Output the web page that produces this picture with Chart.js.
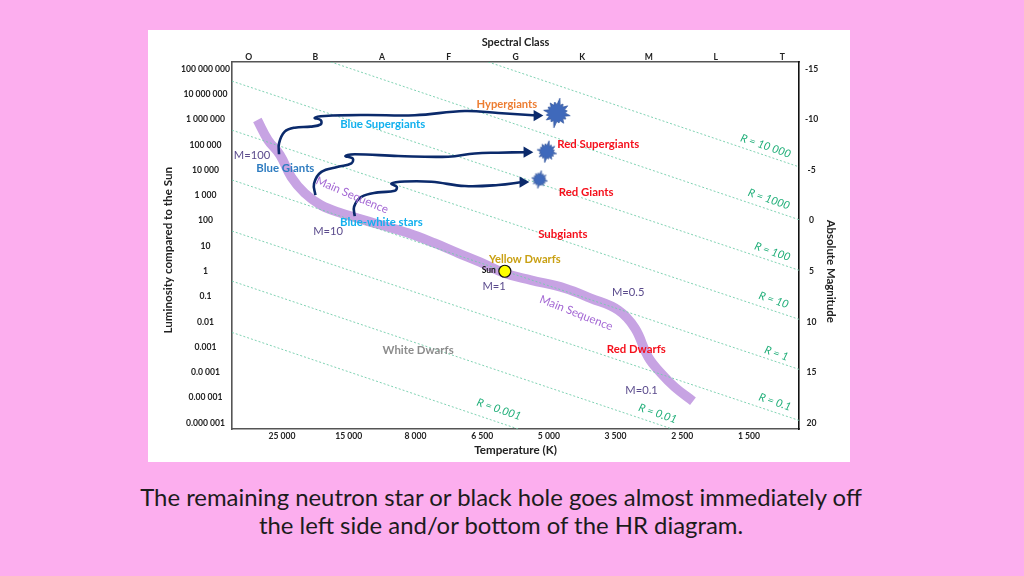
<!DOCTYPE html>
<html>
<head>
<meta charset="utf-8">
<title>HR diagram</title>
<script src="https://cdn.jsdelivr.net/npm/chart.js@4"></script>
<style>
  html, body { margin: 0; padding: 0; width: 1024px; height: 576px; overflow: hidden; background: #fcaeee; }
  #panel { position: absolute; left: 148px; top: 30px; width: 702px; height: 432px; background: #fff; }
  #caption { position: absolute; left: 51px; top: 483px; width: 900px; text-align: center;
    font: 23.9px/28px Lato, sans-serif; color: #1c1c1c; }
</style>
</head>
<body>
<div id="panel"><canvas id="chart" width="702" height="432"></canvas></div>
<div id="caption">The remaining neutron star or black hole goes almost immediately off<br>the left side and/or bottom of the HR diagram.</div>
<script>
// Axis labels
const spectralClasses = ['O', 'B', 'A', 'F', 'G', 'K', 'M', 'L', 'T'];
const temperatures = ['25 000', '15 000', '8 000', '6 500', '5 000', '3 500', '2 500', '1 500'];
const luminosities = ['100 000 000', '10 000 000', '1 000 000', '100 000', '10 000', '1 000', '100', '10', '1',
  '0.1', '0.01', '0.001', '0.0 001', '0.00 001', '0.000 001'];
const magnitudes = [-15, -10, -5, 0, 5, 10, 15, 20];

// x is the position along the class axis, y is log10 of luminosity
const mainSeqX = [0.38, 0.54, 0.72, 0.89, 1.09, 1.33, 1.63, 2.14, 2.64, 3.04, 3.39, 3.72, 4.09, 4.48, 4.99, 5.38, 5.79, 6.04, 6.24, 6.43, 6.64, 6.91];
const mainSeqY = [5.98, 5.19, 4.60, 3.72, 3.09, 2.62, 2.30, 1.90, 1.51, 1.11, 0.72, 0.36, -0.08, -0.35, -0.67, -1.07, -1.54, -2.25, -3.40, -4.03, -4.59, -5.14];

const track1X = [0.705, 0.705, 0.79, 0.94, 1.18, 1.33, 1.33, 1.24, 1.39, 1.99, 2.74, 3.49, 3.99, 4.57];
const track1Y = [4.63, 5.06, 5.52, 5.68, 5.72, 5.81, 5.98, 6.07, 6.14, 6.18, 6.17, 6.34, 6.26, 6.16];
const track2X = [1.25, 1.23, 1.34, 1.59, 1.79, 1.81, 1.70, 1.84, 2.49, 3.24, 3.64, 3.99, 4.42];
const track2Y = [3.01, 3.47, 3.93, 4.13, 4.27, 4.46, 4.56, 4.63, 4.56, 4.53, 4.66, 4.69, 4.71];
const track3X = [1.84, 1.83, 1.94, 2.19, 2.44, 2.47, 2.39, 2.59, 2.99, 3.49, 3.99, 4.36];
const track3Y = [2.18, 2.55, 2.94, 3.12, 3.18, 3.34, 3.47, 3.55, 3.54, 3.37, 3.41, 3.53];

// Constant radius lines, two ends each
const radiusX = [[3.84, 8.5], [1.48, 8.5], [0, 8.5], [0, 8.5], [0, 8.5], [0, 8.5], [0, 6.6], [0, 4.29]];
const radiusY = [[8.28, 4.13], [8.28, 2.04], [7.52, 0.04], [5.58, -1.90], [3.61, -3.88], [1.59, -5.90], [-0.39, -6.24], [-2.42, -6.24]];

const starsX = [4.87, 4.72, 4.61];
const starsY = [6.26, 4.73, 3.63];
const sunX = [4.09];
const sunY = [0];

const GREEN = '#1fae78';
const NAVY = '#0b2a6b';
const RED = '#f5101c';
const SKY = '#12b0ee';
const MASS = '#5a4a8c';
const SEQ = '#a468d4';

// Text on the chart: text, x, y, colour, font, rotation
const chartTexts = [
  ['Hypergiants', 4.12, 6.61, '#ed7d31', 'bold 11.2px Lato', 0],
  ['Blue Supergiants', 2.26, 5.82, SKY, 'bold 11.4px Lato', 0],
  ['Blue Giants', 0.80, 4.07, '#2e7cc0', 'bold 11.4px Lato', 0],
  ['Blue-white stars', 2.24, 1.93, SKY, 'bold 11.4px Lato', 0],
  ['Red Supergiants', 5.49, 5.02, RED, 'bold 11.4px Lato', 0],
  ['Red Giants', 5.31, 3.13, RED, 'bold 11.4px Lato', 0],
  ['Subgiants', 4.96, 1.46, RED, 'bold 11.4px Lato', 0],
  ['Yellow Dwarfs', 4.39, 0.48, '#c9a012', 'bold 11.2px Lato', 0],
  ['White Dwarfs', 2.79, -3.12, '#8c8c8c', 'bold 11.4px Lato', 0],
  ['Red Dwarfs', 6.06, -3.08, RED, 'bold 11.4px Lato', 0],
  ['Sun', 3.85, 0.05, '#111', 'bold 8.5px Lato', 0],
  ['M=100', 0.30, 4.57, MASS, '11.2px Lato', 0],
  ['M=10', 1.44, 1.56, MASS, '11.2px Lato', 0],
  ['M=1', 3.93, -0.59, MASS, '11.2px Lato', 0],
  ['M=0.5', 5.94, -0.83, MASS, '11.2px Lato', 0],
  ['M=0.1', 6.14, -4.71, MASS, '11.2px Lato', 0],
  ['Main Sequence', 1.80, 3.01, SEQ, '11.5px Lato', 23],
  ['Main Sequence', 5.16, -1.65, SEQ, '11.5px Lato', 21.5],
  ['R = 10 000', 8.0, 4.95, GREEN, 'italic 11px Lato', 19],
  ['R = 1000', 8.05, 2.85, GREEN, 'italic 11px Lato', 19],
  ['R = 100', 8.1, 0.77, GREEN, 'italic 11px Lato', 19],
  ['R = 10', 8.12, -1.14, GREEN, 'italic 11px Lato', 19],
  ['R = 1', 8.16, -3.25, GREEN, 'italic 11px Lato', 19],
  ['R = 0.1', 8.14, -5.17, GREEN, 'italic 11px Lato', 19],
  ['R = 0.01', 6.38, -5.63, GREEN, 'italic 11px Lato', 19],
  ['R = 0.001', 4.0, -5.46, GREEN, 'italic 11px Lato', 19],
  ['Luminosity compared to the Sun', -0.96, 0.83, '#222', 'bold 11.6px Lato', -90],
  ['Absolute Magnitude', 8.98, 0, '#222', 'bold 11.4px Lato', 90],
];

function points(xs, ys) {
  return xs.map((x, i) => ({ x, y: ys[i] }));
}

// Spiky star marker, drawn once and handed to Chart.js as a point style
function makeStar(r) {
  const spikes = [1, 0.72, 0.86, 0.7, 0.9, 0.72, 0.82, 0.68, 1, 0.7, 0.84, 0.72, 0.9, 0.7, 0.8, 0.74];
  const c = document.createElement('canvas');
  c.width = c.height = r * 2 + 2;
  const g = c.getContext('2d');
  g.translate(r + 1, r + 1);
  g.beginPath();
  spikes.forEach((s, i) => {
    const a = (i / spikes.length) * Math.PI * 2 - Math.PI / 2 + 0.2;
    const b = a + Math.PI / spikes.length;
    g.lineTo(Math.cos(a) * r * s, Math.sin(a) * r * s);
    g.lineTo(Math.cos(b) * r * 0.55, Math.sin(b) * r * 0.55);
  });
  g.closePath();
  g.fillStyle = '#3f69bb';
  g.strokeStyle = '#35589f';
  g.lineWidth = 0.8;
  g.fill();
  g.stroke();
  return c;
}

function arrowTrack(xs, ys) {
  return {
    data: points(xs, ys),
    showLine: true,
    borderColor: NAVY,
    backgroundColor: NAVY,
    borderWidth: 2.6,
    tension: 0.4,
    pointStyle: 'triangle',
    rotation: 90,
    pointRadius: ctx => (ctx.dataIndex === xs.length - 1 ? 6.5 : 0),
    pointBorderWidth: 0,
    order: 3,
  };
}

const textPlugin = {
  id: 'chartTexts',
  afterDatasetsDraw(chart) {
    const c = chart.ctx;
    const { x, y } = chart.scales;
    chartTexts.forEach(([text, tx, ty, color, font, rot]) => {
      c.save();
      c.translate(x.getPixelForValue(tx), y.getPixelForValue(ty));
      c.rotate(rot * Math.PI / 180);
      c.font = font + ', sans-serif';
      c.fillStyle = color;
      c.textAlign = 'center';
      c.textBaseline = 'middle';
      c.fillText(text, 0, 0);
      c.restore();
    });
  },
};

const tickFont = { family: 'Lato', size: 8.6, weight: 'bold' };

function fixedTicks(values) {
  return axis => { axis.ticks = values.map(value => ({ value })); };
}

const radiusDatasets = radiusX.map((xs, i) => ({
  data: points(xs, radiusY[i]),
  showLine: true,
  borderColor: '#72cdaa',
  borderWidth: 0.9,
  borderDash: [2, 2],
  pointRadius: 0,
  order: 5,
}));

new Chart(document.getElementById('chart'), {
  type: 'scatter',
  data: {
    datasets: [
      ...radiusDatasets,
      {
        data: points(mainSeqX, mainSeqY),
        showLine: true,
        borderColor: '#c7a3e3',
        borderWidth: 9.5,
        tension: 0.4,
        pointRadius: 0,
        order: 6,
      },
      arrowTrack(track1X, track1Y),
      arrowTrack(track2X, track2Y),
      arrowTrack(track3X, track3Y),
      {
        data: points(starsX, starsY),
        pointStyle: [makeStar(15), makeStar(11), makeStar(9)],
        order: 2,
      },
      {
        data: points(sunX, sunY),
        pointRadius: 6,
        pointBackgroundColor: '#ffff00',
        pointBorderColor: '#111',
        pointBorderWidth: 1.2,
        order: 1,
      },
    ],
  },
  options: {
    responsive: false,
    animation: false,
    layout: { padding: 0 },
    plugins: { legend: { display: false }, tooltip: { enabled: false } },
    scales: {
      x: {
        type: 'linear',
        position: 'bottom',
        min: 0,
        max: 8.5,
        afterBuildTicks: fixedTicks(temperatures.map((t, i) => i + 0.75)),
        afterFit: s => { s.height = 33; },
        grid: { display: false, drawTicks: false },
        border: { color: '#555', width: 1.6 },
        ticks: { font: tickFont, color: '#222', padding: 2, maxRotation: 0, autoSkip: false,
          callback: (v, i) => temperatures[i] },
        title: { display: true, text: 'Temperature (K)', font: { family: 'Lato', size: 11.6, weight: 'bold' },
          color: '#222', padding: { top: 0, bottom: 5 } },
      },
      xTop: {
        type: 'linear',
        position: 'top',
        min: 0,
        max: 8.5,
        afterBuildTicks: fixedTicks(spectralClasses.map((c, i) => i + 0.25)),
        afterFit: s => { s.height = 32; },
        grid: { display: false, drawTicks: false },
        border: { color: '#555', width: 1.6 },
        ticks: { font: tickFont, color: '#222', padding: 0, maxRotation: 0, autoSkip: false,
          callback: (v, i) => spectralClasses[i] },
        title: { display: true, text: 'Spectral Class', font: { family: 'Lato', size: 11, weight: 'bold' },
          color: '#222', padding: { top: 6, bottom: 0 } },
      },
      y: {
        type: 'linear',
        position: 'left',
        min: -6.24,
        max: 8.277,
        afterBuildTicks: fixedTicks(luminosities.map((l, i) => 8 - i)),
        afterFit: s => { s.width = 84; },
        grid: { display: false, drawTicks: false },
        border: { color: '#555', width: 1.6 },
        ticks: { font: tickFont, color: '#222', padding: 2, crossAlign: 'center', autoSkip: false,
          callback: (v, i) => luminosities[i] },
      },
      yMag: {
        type: 'linear',
        position: 'right',
        reverse: true,
        min: -15.69,
        max: 20.6,
        afterBuildTicks: fixedTicks(magnitudes),
        afterFit: s => { s.width = 51; },
        grid: { display: false, drawTicks: false },
        border: { color: '#111', width: 1.6 },
        ticks: { font: tickFont, color: '#222', padding: 6, crossAlign: 'center', autoSkip: false,
          callback: v => String(v) },
      },
    },
  },
  plugins: [textPlugin],
});
</script>
</body>
</html>
